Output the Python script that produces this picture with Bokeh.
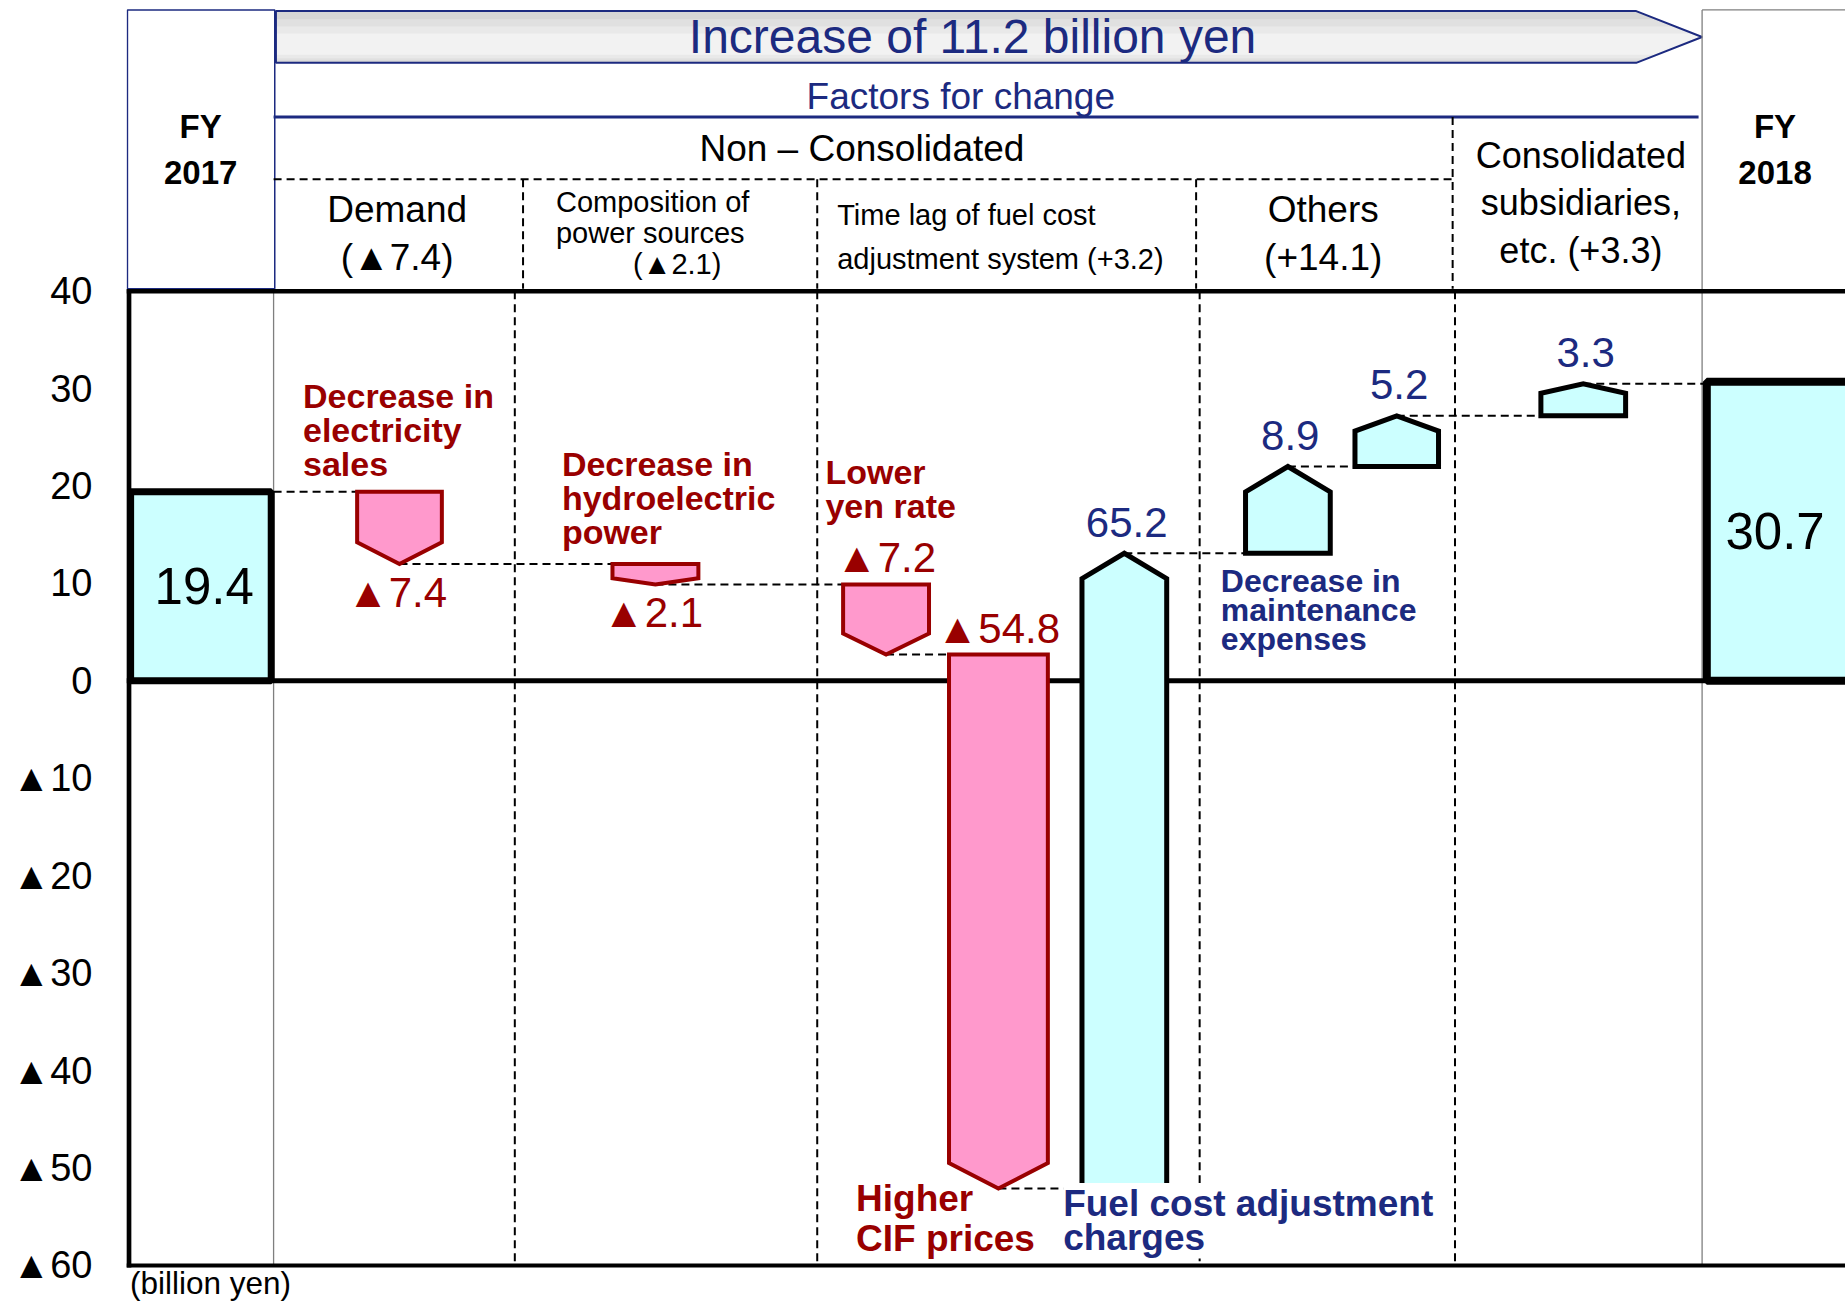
from bokeh.plotting import figure
from bokeh.models import Range1d, FixedTicker, ColumnDataSource
from bokeh.core.properties import value
from bokeh.embed import file_html
from bokeh.resources import INLINE

# ---------------- data ----------------
start_label = ["FY", "2017"]
start_value = 19.4
end_label = ["FY", "2018"]
end_value = 30.7
total_change = 11.2
step_values = [-7.4, -2.1, -7.2, -54.8, 65.2, 8.9, 5.2, 3.3]
step_notes = ["Decrease in\nelectricity\nsales", "Decrease in\nhydroelectric\npower",
              "Lower\nyen rate", "Higher\nCIF prices", "Fuel cost adjustment\ncharges",
              "Decrease in\nmaintenance\nexpenses", "", ""]
group_names = ["Demand", "Composition of\npower sources", "Time lag of fuel cost\nadjustment system",
               "Others", "Consolidated\nsubsidiaries,\netc."]
group_totals = [-7.4, -2.1, 3.2, 14.1, 3.3]
y_ticks = [40, 30, 20, 10, 0, -10, -20, -30, -40, -50, -60]
y_tick_labels = ["40", "30", "20", "10", "0", "▲10", "▲20", "▲30", "▲40", "▲50", "▲60"]

# ---------------- style / layout ----------------
FONT = "Liberation Sans, DejaVu Sans"
RED = "#990000"
NAVY = "#1c2a80"
PINK = "#FF99CC"
CYAN = "#CCFFFF"
W, H = 1845, 1303
LEFT = 126
SC = 1.1767
X0, X1 = 107.0, 107.0 + (W - LEFT) / SC
PXU = 8.28


def Y(d):
    return (578.2 - d) / PXU


def fmt(v, plus=False):
    if v < 0:
        return "▲%.1f" % abs(v)
    return ("+%.1f" if plus else "%.1f") % v


step_x0 = [303, 520, 716, 806, 919, 1058, 1151, 1309]
step_w = [72, 73, 73, 84, 72, 72, 71, 72]
label_mode = ["below_tip", "below_tip", "above_top", "above_top",
              "above_tip", "above_tip", "above_tip", "above_tip"]

p = figure(width=W, height=H, x_range=Range1d(X0, X1), y_range=Range1d(Y(H / SC), Y(0)),
           output_backend="svg", toolbar_location=None, x_axis_location=None,
           y_axis_location="left", min_border_left=LEFT, min_border_right=0,
           min_border_top=0, min_border_bottom=0)
p.grid.visible = False
p.outline_line_color = None
p.background_fill_color = "white"
p.border_fill_color = "white"
ax = p.yaxis[0]
ax.ticker = FixedTicker(ticks=y_ticks)
ax.major_label_overrides = dict(zip(y_ticks, y_tick_labels))
ax.axis_line_color = None
ax.major_tick_line_color = None
ax.minor_tick_line_color = None
ax.major_tick_out = 0
ax.major_tick_in = 0
ax.major_label_standoff = 34
ax.major_label_text_font = FONT
ax.major_label_text_font_size = "38px"
ax.major_label_text_color = "black"


def txt(x, y, s, size, color="black", style="normal", align="center", baseline="middle", lh=1.2, **kw):
    p.text(x=[x], y=[y], text=[s], text_font=value(FONT), text_font_size=f"{size}px",
           text_font_style=style, text_color=color, text_align=align,
           text_baseline=baseline, text_line_height=lh, **kw)


def seg(x0, y0, x1, y1, color="black", width=2, dash="solid"):
    p.segment(x0=[x0], y0=[y0], x1=[x1], y1=[y1], line_color=color, line_width=width, line_dash=dash)


DASH = "8 5"

# ---------------- header ----------------
AX0, AXB, AXT, AYT, AYM, AYB = 234, 1390, 1446, 9, 31, 53


def arrow_band(ya, yb):
    def xr(y):
        return AXT - (AXT - AXB) * abs(y - AYM) / (AYM - AYT)
    xs_ = [AX0, xr(ya)]
    ys_ = [ya, ya]
    if ya < AYM < yb:
        xs_.append(AXT)
        ys_.append(AYM)
    xs_ += [xr(yb), AX0]
    ys_ += [yb, yb]
    return xs_, [Y(v) for v in ys_]


for (ya, yb), col in zip([(AYT, AYB), (16, 51), (22, 49), (28, 46)],
                         ["#d6d6d6", "#e0e0e0", "#e9e9e9", "#f2f2f2"]):
    bx, by = arrow_band(ya, yb)
    p.patch(bx, by, fill_color=col, line_color=None)
bx, by = arrow_band(AYT, AYB)
p.patch(bx, by, fill_color=None, line_color=NAVY, line_width=2)

p.quad(left=[107.8], right=[233], top=[Y(8)], bottom=[Y(245)], fill_color=None,
       line_color=NAVY, line_width=1.5)
seg(1446, Y(8), 1446, -60, color="#7f7f7f", width=1.3)
seg(1446, Y(8), X1 + 5, Y(8), color="#7f7f7f", width=1.3)
seg(232, Y(99), 1443, Y(99), color=NAVY, width=3)
seg(232, Y(152), 1234, Y(152), dash=DASH)
seg(1234, Y(99), 1234, Y(245), dash=DASH)
for hx in [444, 694, 1016]:
    seg(hx, Y(152), hx, Y(245), dash=DASH)

txt(826, Y(31), "Increase of %.1f billion yen" % total_change, 48, color=NAVY)
txt(816, Y(82), "Factors for change", 37, color=NAVY)
txt(732, Y(126), "Non \u2013 Consolidated", 37)
txt(170, Y(126.5), "\n".join(start_label), 33, style="bold", lh=1.23)
txt(1508, Y(126.5), "\n".join(end_label), 33, style="bold", lh=1.23)
txt(337, Y(198), "%s\n(%s)" % (group_names[0], fmt(group_totals[0], True)), 37, lh=1.15)
txt(472, Y(184.5), group_names[1], 29, align="left", lh=0.98)
txt(575, Y(224), "(%s)" % fmt(group_totals[1], True), 29)
txt(711, Y(201), "%s (%s)" % (group_names[2], fmt(group_totals[2], True)), 29, align="left", lh=1.37)
txt(1124, Y(198), "%s\n(%s)" % (group_names[3], fmt(group_totals[3], True)), 37, lh=1.15)
txt(1343, Y(172), "%s (%s)" % (group_names[4], fmt(group_totals[4], True)), 36, lh=1.16)

# ---------------- plot frame ----------------
seg(232, 40, 232, -60, color="#7f7f7f", width=1.3)
for vx in [437, 694, 1019, 1236]:
    seg(vx, 40, vx, -60, dash=DASH)
seg(107, 40, X1 + 5, 40, width=4.5)
seg(107, -60, X1 + 5, -60, width=4)
seg(107, 0, X1 + 5, 0, width=5)
seg(109, 40.2, 109, -60.2, width=5)

# ---------------- waterfall ----------------
levels = []
cum = start_value
for v in step_values:
    levels.append((cum, cum + v))
    cum += v

# connectors
cx0 = [232] + [x + w / 2 for x, w in zip(step_x0, step_w)]
cx1 = step_x0 + [1449]
cy = [start_value] + [e for s, e in levels]
p.segment(x0=cx0, y0=cy, x1=cx1, y1=cy, line_color="black", line_width=2, line_dash=DASH)

# totals
p.quad(left=[110.5, 1450], right=[230, 1600], bottom=[0, 0], top=[start_value, end_value],
       fill_color=CYAN, line_color="black", line_width=[7, 8])

xs, ys, fills, lines, lws = [], [], [], [], []
for (s, e), x0, w, v in zip(levels, step_x0, step_w, step_values):
    h = min(0.3 * abs(v), 2.6)
    side = e + h if v < 0 else e - h
    xs.append([x0, x0 + w, x0 + w, x0 + w / 2, x0])
    ys.append([s, s, side, e, side])
    fills.append(PINK if v < 0 else CYAN)
    lines.append(RED if v < 0 else "black")
    lws.append(4 if v < 0 else 5)
p.patches(xs="xs", ys="ys", fill_color="fill", line_color="line", line_width="lw",
          line_join="miter",
          source=ColumnDataSource(dict(xs=xs, ys=ys, fill=fills, line=lines, lw=lws)))

# value labels
for (s, e), x0, w, v, mode in zip(levels, step_x0, step_w, step_values, label_mode):
    col = RED if v < 0 else NAVY
    if mode == "below_tip":
        txt(x0 + w / 2 - 2, e - 0.5, fmt(v), 42, color=col, baseline="top")
    elif mode == "above_top":
        txt(x0 + w / 2, s + 0.3, fmt(v), 42, color=col, baseline="bottom")
    else:
        txt(x0 + w / 2 + 2, e + 1.7, fmt(v), 42, color=col, baseline="bottom")

txt(173, start_value / 2, "%.1f" % start_value, 51)
txt(1508, end_value / 2, "%.1f" % end_value, 51)

# notes
txt(257, Y(365), step_notes[0], 34, color=RED, style="bold", align="left", lh=0.89)
txt(477, Y(423), step_notes[1], 34, color=RED, style="bold", align="left", lh=0.89)
txt(701, Y(415), step_notes[2], 34, color=RED, style="bold", align="left", lh=0.91)
txt(727, Y(1035), step_notes[3], 37, color=RED, style="bold", align="left", lh=0.97)
txt(903, Y(1037), step_notes[4], 37, color=NAVY, style="bold", align="left", lh=0.84,
    background_fill_color="white")
txt(1037, Y(518), step_notes[5], 32, color=NAVY, style="bold", align="left", lh=0.81)
txt(110, Y(1090), "(billion yen)", 31.5, align="left")

open("out.html", "w").write(file_html(p, INLINE))
